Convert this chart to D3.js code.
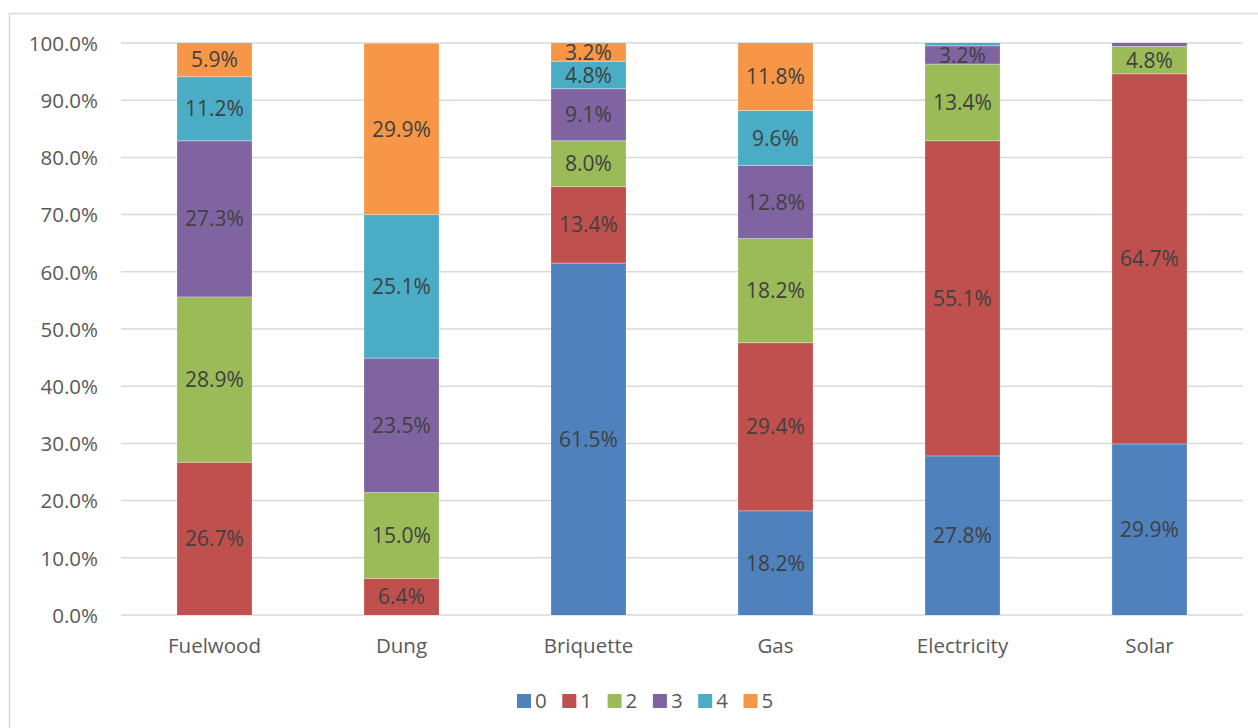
<!DOCTYPE html>
<html>
<head>
<meta charset="utf-8">
<script src="https://cdn.jsdelivr.net/npm/d3@7"></script>
<style>
  html, body { margin: 0; padding: 0; background: #fff; }
  svg { display: block; font-family: "Open Sans", "Noto Sans", "DejaVu Sans", sans-serif; }
</style>
</head>
<body>
<svg id="chart" width="1258" height="728"></svg>
<script>
// Fuel types along the x axis
const categories = ["Fuelwood", "Dung", "Briquette", "Gas", "Electricity", "Solar"];
// Stacked series (percent share of each fuel), bottom to top
const seriesNames = ["0", "1", "2", "3", "4", "5"];
const s0 = [0, 0, 61.5, 18.2, 27.8, 29.9];
const s1 = [26.7, 6.4, 13.4, 29.4, 55.1, 64.7];
const s2 = [28.9, 15.0, 8.0, 18.2, 13.4, 4.8];
const s3 = [27.3, 23.5, 9.1, 12.8, 3.2, 0.6];
const s4 = [11.2, 25.1, 4.8, 9.6, 0.5, 0];
const s5 = [5.9, 29.9, 3.2, 11.8, 0, 0];
const seriesColors = ["#4f81bd", "#c0504d", "#9bbb59", "#8064a2", "#4bacc6", "#f79646"];
const yTicks = [0, 10, 20, 30, 40, 50, 60, 70, 80, 90, 100];

const seriesValues = [s0, s1, s2, s3, s4, s5];
const rows = categories.map((c, i) => {
  const r = { category: c };
  seriesNames.forEach((n, k) => { r[n] = seriesValues[k][i]; });
  return r;
});

const svg = d3.select("#chart");
const W = 1258, H = 728;
const FONT = "'Open Sans', 'Noto Sans', 'DejaVu Sans', sans-serif";

// chart area border
svg.append("rect")
  .attr("x", 9.5).attr("y", 13.5)
  .attr("width", W + 10).attr("height", H + 10)
  .attr("fill", "#fff").attr("stroke", "#d9d9d9").attr("stroke-width", 1.5);

const plot = { left: 121, right: 1243, top: 43, bottom: 615 };

const x = d3.scaleBand()
  .domain(categories)
  .range([plot.left, plot.right])
  .paddingInner(0.6)
  .paddingOuter(0.3);

const y = d3.scaleLinear().domain([0, 100]).range([plot.bottom, plot.top]);

// horizontal gridlines
svg.append("g")
  .selectAll("line")
  .data(yTicks)
  .join("line")
  .attr("x1", plot.left).attr("x2", plot.right)
  .attr("y1", d => y(d)).attr("y2", d => y(d))
  .attr("stroke", "#d9d9d9").attr("stroke-width", 1.5);

// y axis labels
const yAxis = d3.axisLeft(y).tickValues(yTicks).tickSize(0).tickPadding(0)
  .tickFormat(d => d.toFixed(1) + "%");
svg.append("g")
  .attr("transform", `translate(${plot.left - 23},0)`)
  .call(yAxis)
  .call(g => g.select(".domain").remove())
  .call(g => g.selectAll("text")
    .attr("fill", "#595959")
    .attr("dy", "0.36em")
    .style("font-size", "20.5px")
    .style("font-family", FONT));

// x axis labels
const xAxis = d3.axisBottom(x).tickSize(0).tickPadding(0);
svg.append("g")
  .attr("transform", `translate(0,${plot.bottom})`)
  .call(xAxis)
  .call(g => g.select(".domain").remove())
  .call(g => g.selectAll("text")
    .attr("y", 38).attr("dy", 0)
    .attr("fill", "#595959")
    .style("font-size", "20.5px")
    .style("font-family", FONT));

// stacked bars
const stack = d3.stack().keys(seriesNames);
const layers = stack(rows);

const layerG = svg.append("g")
  .selectAll("g")
  .data(layers)
  .join("g")
  .attr("fill", (d, i) => seriesColors[i]);

layerG.selectAll("rect")
  .data(d => d.map(p => ({ p, cat: p.data.category })))
  .join("rect")
  .attr("x", d => x(d.cat))
  .attr("width", x.bandwidth())
  .attr("y", d => y(d.p[1]))
  .attr("height", d => Math.max(0, y(d.p[0]) - y(d.p[1])));

// thin light separators between segments
layerG.selectAll("line")
  .data(d => d.filter(p => p[1] - p[0] > 0 && p[0] > 0).map(p => ({ p, cat: p.data.category })))
  .join("line")
  .attr("x1", d => x(d.cat)).attr("x2", d => x(d.cat) + x.bandwidth())
  .attr("y1", d => y(d.p[0])).attr("y2", d => y(d.p[0]))
  .attr("stroke", "#ffffff").attr("stroke-opacity", 0.5).attr("stroke-width", 0.8);

// value labels
layerG.selectAll("text")
  .data(d => d.filter(p => p[1] - p[0] >= 1).map(p => ({ p, cat: p.data.category, v: p[1] - p[0] })))
  .join("text")
  .attr("x", d => x(d.cat) + x.bandwidth() / 2)
  .attr("y", d => y((d.p[0] + d.p[1]) / 2))
  .attr("dy", "0.36em")
  .attr("text-anchor", "middle")
  .attr("fill", "#404040")
  .style("font-size", "21px")
  .style("font-family", FONT)
  .text(d => d.v.toFixed(1) + "%");

// legend
const legendItems = seriesNames.map((n, i) => ({ n, c: seriesColors[i] }));
const legendStartX = 517, legendY = 701, legendStep = 45.3;
const lg = svg.append("g")
  .selectAll("g")
  .data(legendItems)
  .join("g")
  .attr("transform", (d, i) => `translate(${legendStartX + i * legendStep},${legendY})`);
lg.append("rect")
  .attr("x", 0).attr("y", -7).attr("width", 14).attr("height", 14)
  .attr("fill", d => d.c);
lg.append("text")
  .attr("x", 18).attr("y", 0).attr("dy", "0.36em")
  .attr("fill", "#595959")
  .style("font-size", "20.5px")
  .style("font-family", FONT)
  .text(d => d.n);
</script>
</body>
</html>
